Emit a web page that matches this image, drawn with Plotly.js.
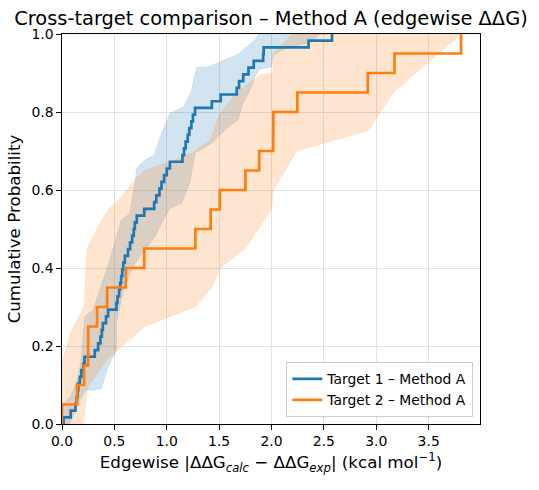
<!DOCTYPE html>
<html><head><meta charset="utf-8">
<script src="https://cdn.plot.ly/plotly-3.0.1.min.js"></script>
<style>html,body{margin:0;padding:0;background:#fff}#chart{width:539px;height:490px}</style>
</head><body><div id="chart"></div>
<script>
// Edgewise absolute errors (kcal/mol), sorted
const target1Errors = [0.015, 0.083, 0.128, 0.14, 0.15, 0.155, 0.17, 0.185, 0.205, 0.215, 0.313, 0.345, 0.367, 0.38, 0.39, 0.42, 0.44, 0.52, 0.53, 0.545, 0.555, 0.565, 0.575, 0.585, 0.6, 0.63, 0.65, 0.67, 0.685, 0.695, 0.714, 0.785, 0.88, 0.9, 0.93, 0.95, 0.975, 1.0, 1.03, 1.15, 1.165, 1.18, 1.2, 1.215, 1.235, 1.25, 1.27, 1.43, 1.515, 1.668, 1.69, 1.73, 1.78, 1.83, 1.92, 1.925, 2.354, 2.577];
const target2Errors = [0.0, 0.144, 0.211, 0.249, 0.25, 0.335, 0.431, 0.609, 0.785, 1.273, 1.419, 1.506, 1.751, 1.882, 2.016, 2.017, 2.246, 2.919, 3.174, 3.809];

// Confidence bands (x, lower / upper cumulative probability)
const t1UpperX = [0, 0.08, 0.15, 0.183, 0.215, 0.295, 0.455, 0.566, 0.646, 0.705, 0.71, 0.791, 0.88, 0.944, 1.03, 1.158, 1.231, 1.285, 1.397, 1.509, 1.684, 1.844, 1.876, 2.577];
const t1UpperY = [0.05, 0.07, 0.12, 0.164, 0.275, 0.292, 0.42, 0.523, 0.54, 0.634, 0.656, 0.677, 0.69, 0.741, 0.797, 0.812, 0.85, 0.915, 0.916, 0.929, 0.949, 0.985, 1.0, 1.0];
const t1LowerX = [0, 0.073, 0.153, 0.233, 0.313, 0.376, 0.44, 0.52, 0.52, 0.6, 0.695, 0.79, 0.887, 0.95, 1.03, 1.142, 1.22, 1.238, 1.27, 1.43, 1.49, 1.59, 1.684, 1.716, 1.81, 1.84, 1.89, 2.0, 2.02, 2.16, 2.354, 2.466, 2.577];
const t1LowerY = [0, 0, 0.053, 0.087, 0.087, 0.091, 0.147, 0.188, 0.258, 0.36, 0.41, 0.446, 0.48, 0.515, 0.553, 0.566, 0.617, 0.651, 0.694, 0.72, 0.737, 0.762, 0.78, 0.814, 0.865, 0.89, 0.91, 0.916, 0.946, 0.967, 0.976, 1.0, 1.0];
const t2UpperX = [0, 0.09, 0.21, 0.24, 0.344, 0.44, 0.568, 0.695, 0.79, 1.03, 1.25, 1.42, 1.507, 1.666, 1.89, 2.016, 2.016, 2.2, 3.809];
const t2UpperY = [0.155, 0.24, 0.3, 0.45, 0.506, 0.549, 0.583, 0.626, 0.651, 0.672, 0.697, 0.73, 0.797, 0.849, 0.895, 0.9, 0.95, 1.0, 1.0];
const t2LowerX = [0, 0.2, 0.247, 0.44, 0.79, 1.27, 1.43, 1.51, 1.75, 2.0, 2.02, 2.24, 2.92, 3.17, 3.809];
const t2LowerY = [0, 0, 0.096, 0.168, 0.25, 0.3, 0.35, 0.4, 0.45, 0.55, 0.6, 0.70, 0.752, 0.852, 1.0];

const seriesNames = ['Target 1 – Method A', 'Target 2 – Method A'];
const colors = ['#1f77b4', '#ff7f0e'];
const fills = ['rgba(31,119,180,0.2)', 'rgba(255,127,14,0.2)'];

function ecdf(vals) {
  const n = vals.length;
  const x = [0].concat(vals);
  const y = [0].concat(vals.map((v, i) => (i + 1) / n));
  return {x, y};
}
function band(ux, uy, lx, ly, i) {
  return {
    x: ux.concat(lx.slice().reverse()),
    y: uy.concat(ly.slice().reverse()),
    type: 'scatter', mode: 'lines', fill: 'toself',
    fillcolor: fills[i], line: {width: 0.6, color: fills[i]},
    hoverinfo: 'skip', showlegend: false
  };
}
const e1 = ecdf(target1Errors), e2 = ecdf(target2Errors);
const data = [
  band(t1UpperX, t1UpperY, t1LowerX, t1LowerY, 0),
  band(t2UpperX, t2UpperY, t2LowerX, t2LowerY, 1),
  {x: e1.x, y: e1.y, type: 'scatter', mode: 'lines', line: {shape: 'hv', color: colors[0], width: 2.7}, name: seriesNames[0]},
  {x: e2.x, y: e2.y, type: 'scatter', mode: 'lines', line: {shape: 'hv', color: colors[1], width: 2.7}, name: seriesNames[1]}
];
const font = 'DejaVu Sans, sans-serif';
const layout = {
  width: 539, height: 490,
  margin: {l: 62, r: 59, t: 34, b: 66},
  paper_bgcolor: '#fff', plot_bgcolor: '#fff',
  font: {family: font, size: 13.9, color: '#000'},
  title: {text: 'Cross-target comparison – Method A (edgewise ΔΔG)', font: {family: font, size: 19.4, color: '#000'}, x: 0.5, xref: 'paper', y: 0.963, yanchor: 'middle'},
  xaxis: {
    range: [0, 3.99], tickvals: [0, 0.5, 1, 1.5, 2, 2.5, 3, 3.5], tickformat: '.1f',
    showgrid: true, gridcolor: '#e2e2e2', gridwidth: 1, zeroline: false,
    showline: true, mirror: true, linecolor: '#000', linewidth: 1.1,
    ticks: 'outside', ticklen: 4.5, tickwidth: 1, tickcolor: '#000',
    tickfont: {size: 13.9},
    title: {text: 'Edgewise |ΔΔG<sub><i>calc</i></sub> − ΔΔG<sub><i>exp</i></sub>| (kcal mol<sup>−1</sup>)', font: {size: 16.7}, standoff: 8}
  },
  yaxis: {
    range: [0, 1], tickvals: [0, 0.2, 0.4, 0.6, 0.8, 1.0], tickformat: '.1f',
    showgrid: true, gridcolor: '#e2e2e2', gridwidth: 1, zeroline: false,
    showline: true, mirror: true, linecolor: '#000', linewidth: 1.1,
    ticks: 'outside', ticklen: 4.5, tickwidth: 1, tickcolor: '#000',
    tickfont: {size: 13.9},
    title: {text: 'Cumulative Probability', font: {size: 16.7}, standoff: 6}
  },
  legend: {
    x: 0.984, y: 0.017, xanchor: 'right', yanchor: 'bottom',
    bgcolor: 'rgba(255,255,255,0.85)', bordercolor: '#cccccc', borderwidth: 1,
    font: {size: 13.9}, tracegroupgap: 0, itemwidth: 30
  },
  showlegend: true
};
Plotly.newPlot('chart', data, layout, {staticPlot: true, displayModeBar: false});
</script>
</body></html>
